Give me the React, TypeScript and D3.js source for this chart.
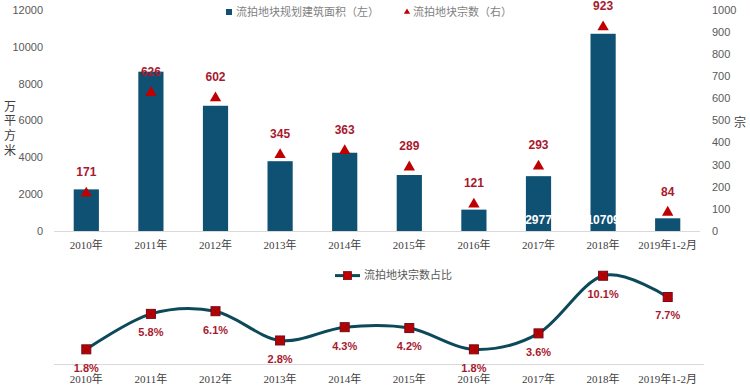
import React from "react";
import * as d3 from "d3";

const categories = ["2010年", "2011年", "2012年", "2013年", "2014年", "2015年", "2016年", "2017年", "2018年", "2019年1-2月"];
const areaValues = [2260, 8650, 6800, 3790, 4250, 3040, 1160, 2977, 10709, 690];
const areaLabels = ["", "", "", "", "", "", "", "2977", "10709", ""];
const countValues = [171, 626, 602, 345, 363, 289, 121, 293, 923, 84];
const shareValues = [1.8, 5.8, 6.1, 2.8, 4.3, 4.2, 1.8, 3.6, 10.1, 7.7];
const leftTicks = [0, 2000, 4000, 6000, 8000, 10000, 12000];
const rightTicks = [0, 100, 200, 300, 400, 500, 600, 700, 800, 900, 1000];

const BAR = "#0e5173";
const RED = "#c00000";
const LABEL_RED = "#a8192e";
const LINE = "#0c4a5a";
const GREY = "#595959";
const NUM_FONT = "'Liberation Sans', Arial, 'Noto Sans CJK SC', sans-serif";
const CAT_FONT = "'Liberation Serif', 'Noto Sans CJK SC', serif";
const CJK_FONT = "'Noto Sans CJK SC', sans-serif";

const App = () => {
  const width = 750, height = 391;

  // top chart scales
  const x = d3.scaleBand<string>().domain(categories).range([54, 700]).paddingInner(0.61).paddingOuter(0.305);
  const cx = (c: string) => (x(c) as number) + x.bandwidth() / 2;
  const yLeft = d3.scaleLinear().domain([0, 12000]).range([231, 10]);
  const yRight = d3.scaleLinear().domain([0, 1000]).range([231, 10]);

  // bottom chart scales
  const yShare = d3.scaleLinear().domain([0, 12]).range([365.3, 258.9]);
  const line = d3.line<number>()
    .x((_, i) => cx(categories[i]))
    .y(d => yShare(d))
    .curve(d3.curveCardinal);

  const tri = d3.symbol().type(d3.symbolTriangle).size(56);

  return (
    <svg width={width} height={height} style={{ position: "absolute", left: 0, top: 0, background: "#fff" }}>
      {/* legend top */}
      <rect x={226} y={9} width={6} height={6} fill={BAR} />
      <text x={236} y={12} dy="0.35em" fontSize={11} fill="#7f7f7f" fontFamily={CJK_FONT}>流拍地块规划建筑面积（左）</text>
      <path d={tri() as string} transform="translate(407,12) scale(0.55)" fill={RED} />
      <text x={413} y={12} dy="0.35em" fontSize={11} fill="#7f7f7f" fontFamily={CJK_FONT}>流拍地块宗数（右）</text>

      {/* left axis */}
      {leftTicks.map(t => (
        <text key={t} x={43} y={yLeft(t)} dy="0.35em" textAnchor="end" fontSize={11} fill={GREY} fontFamily={NUM_FONT}>{t}</text>
      ))}
      <text x={10} y={100} writingMode="vertical-rl" letterSpacing={2.7} fontSize={12} fill="#404040" fontFamily={CJK_FONT}>万平方米</text>

      {/* right axis */}
      {rightTicks.map(t => (
        <text key={t} x={712} y={yRight(t)} dy="0.35em" fontSize={11} fill={GREY} fontFamily={NUM_FONT}>{t}</text>
      ))}
      <text x={740} y={123} dy="0.35em" textAnchor="middle" fontSize={12} fill="#404040" fontFamily={CJK_FONT}>宗</text>

      {/* bars */}
      {categories.map((c, i) => (
        <rect key={c} x={x(c)} y={yLeft(areaValues[i])} width={x.bandwidth()} height={yLeft(0) - yLeft(areaValues[i])} fill={BAR} />
      ))}
      {categories.map((c, i) => areaLabels[i] ? (
        <text key={c} x={cx(c)} y={219.5} dy="0.35em" textAnchor="middle" fontSize={12} fontWeight="bold" fill="#fff" fontFamily={NUM_FONT}>{areaLabels[i]}</text>
      ) : null)}
      <line x1={54} x2={700} y1={231.5} y2={231.5} stroke="#d9d9d9" />

      {/* triangles */}
      {categories.map((c, i) => (
        <g key={c}>
          <path d={tri() as string} transform={`translate(${cx(c)},${yRight(countValues[i])})`} fill={RED} />
          <text x={cx(c)} y={yRight(countValues[i]) - 21} dy="0.35em" textAnchor="middle" fontSize={12} fontWeight="bold" fill={LABEL_RED} fontFamily={NUM_FONT}>{countValues[i]}</text>
        </g>
      ))}

      {/* top category labels */}
      {categories.map(c => (
        <text key={c} x={cx(c)} y={245} dy="0.35em" textAnchor="middle" fontSize={11} fill="#404040" fontFamily={CAT_FONT}>{c}</text>
      ))}

      {/* bottom legend */}
      <line x1={335} x2={360} y1={275.6} y2={275.6} stroke={LINE} strokeWidth={3} />
      <rect x={343.5} y={271.6} width={8} height={8} fill={RED} stroke="#7a0a1a" strokeWidth={0.8} />
      <text x={364} y={275.6} dy="0.35em" fontSize={11} fill="#595959" fontFamily={CJK_FONT}>流拍地块宗数占比</text>

      {/* bottom axis line */}
      <line x1={54} x2={704} y1={364.5} y2={364.5} stroke="#d9d9d9" />

      {/* share line */}
      <path d={line(shareValues) as string} fill="none" stroke={LINE} strokeWidth={3} />
      {categories.map((c, i) => {
        const px = cx(c), py = yShare(shareValues[i]);
        return (
          <g key={c}>
            <rect x={px - 4.5} y={py - 4.5} width={9} height={9} fill={RED} stroke="#6e0b18" strokeWidth={1} />
            <path d={`M${px - 3},${py - 3}L${px + 3},${py + 3}M${px + 3},${py - 3}L${px - 3},${py + 3}`} stroke="#7a0a1a" strokeWidth={0.8} />
            <text x={px} y={py + 18.5} dy="0.35em" textAnchor="middle" fontSize={11} fontWeight="bold" fill={LABEL_RED} fontFamily={NUM_FONT}>{shareValues[i].toFixed(1)}%</text>
          </g>
        );
      })}

      {/* bottom category labels */}
      {categories.map(c => (
        <text key={c} x={cx(c)} y={379.5} dy="0.35em" textAnchor="middle" fontSize={11} fill="#404040" fontFamily={CAT_FONT}>{c}</text>
      ))}
    </svg>
  );
};

export default App;
